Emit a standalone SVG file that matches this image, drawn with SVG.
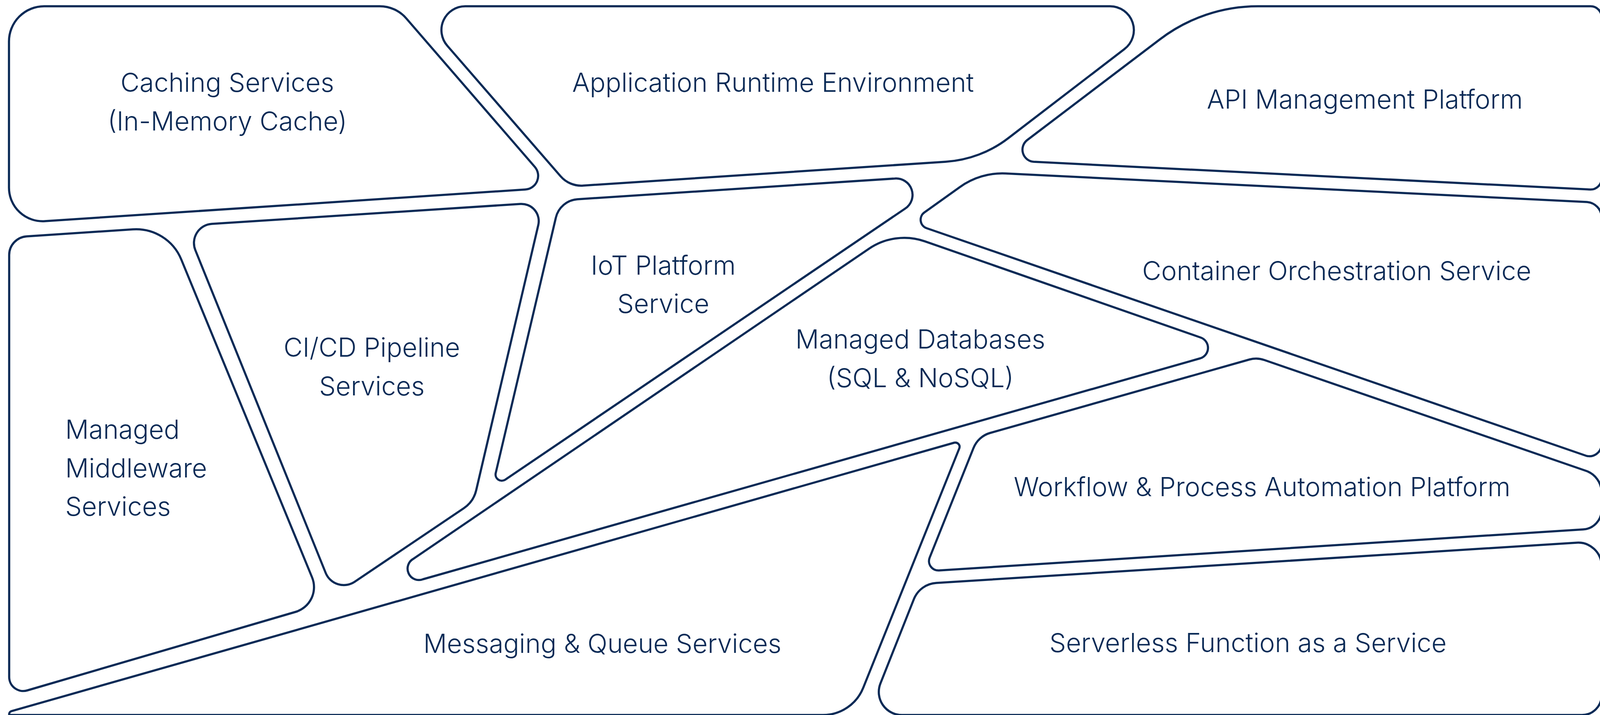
<svg xmlns="http://www.w3.org/2000/svg" width="4097" height="1830" viewBox="0 0 4097 1830">
<style>
.cell{fill:#ffffff;stroke:#0a2a56;stroke-width:5.5;stroke-linejoin:round}
.lbl{font-family:Inter,"Noto Sans","Liberation Sans",sans-serif;font-weight:300;font-size:67px;fill:#0a2a56;text-anchor:middle}
.lft{text-anchor:start}
</style>
<rect width="4097" height="1830" fill="#ffffff"/>
<g id="connectors"></g>
<g id="caching-services">
<path class="cell" d="M 23,106 A 90 90 0 0 1 113,16 L 972,16 A 90 90 0 0 1 1040,47 L 1369,427 A 35 35 0 0 1 1345,485 L 115,566 A 86 86 0 0 1 23,480 Z"/>
<text class="lbl" x="582" y="235">Caching Services</text>
<text class="lbl" x="582" y="334">(In-Memory Cache)</text>
</g>
<g id="application-runtime">
<path class="cell" d="M 1145,117 A 61 61 0 0 1 1191,16 L 2841,16 A 61 61 0 0 1 2878,126 L 2582,353 A 294 294 0 0 1 2421,414 L 1493,475 A 70 70 0 0 1 1435,451 Z"/>
<text class="lbl" x="1979" y="235">Application Runtime Environment</text>
</g>
<g id="api-management">
<path class="cell" d="M 2969,101 A 414 414 0 0 1 3220,16 L 4072,16 A 28 28 0 0 1 4100,44 L 4100,457 A 28 28 0 0 1 4070,485 L 2646,414 A 31 31 0 0 1 2629,359 Z"/>
<text class="lbl" x="3494" y="278">API Management Platform</text>
</g>
<g id="container-orchestration">
<path class="cell" d="M 2457,479 A 186 186 0 0 1 2575,444 L 4062,517 A 40 40 0 0 1 4100,557 L 4100,1137 A 31 31 0 0 1 4059,1166 L 2372,584 A 23 23 0 0 1 2366,544 Z"/>
<text class="lbl" x="3422" y="717">Container Orchestration Service</text>
</g>
<g id="iot-platform">
<path class="cell" d="M 1423,557 A 61 61 0 0 1 1478,510 L 2290,457 A 42 42 0 0 1 2317,534 L 1293,1228 A 16 16 0 0 1 1269,1211 Z"/>
<text class="lbl" x="1698" y="703">IoT Platform</text>
<text class="lbl" x="1698" y="801">Service</text>
</g>
<g id="cicd-pipeline">
<path class="cell" d="M 500,640 A 49 49 0 0 1 542,573 L 1332,522 A 44 44 0 0 1 1378,576 L 1219,1255 A 76 76 0 0 1 1187,1301 L 908,1489 A 50 50 0 0 1 834,1467 Z"/>
<text class="lbl" x="952" y="913">CI/CD Pipeline</text>
<text class="lbl" x="952" y="1012">Services</text>
</g>
<g id="managed-middleware">
<path class="cell" d="M 23.5,653 A 48 48 0 0 1 68,605 L 340,587 A 125 125 0 0 1 464,664 L 799,1478 A 66 66 0 0 1 757,1566 L 70,1767 A 36 36 0 0 1 23.5,1733 Z"/>
<text class="lbl lft" x="167" y="1123">Managed</text>
<text class="lbl lft" x="167" y="1222">Middleware</text>
<text class="lbl lft" x="167" y="1320">Services</text>
</g>
<g id="managed-databases">
<path class="cell" d="M 2224,637 A 161 161 0 0 1 2367.5,617.6 L 3074,864 A 28 28 0 0 1 3073,917 L 1083,1482.5 A 29 29 0 0 1 1058.6,1430 Z"/>
<text class="lbl" x="2356" y="892">Managed Databases</text>
<text class="lbl" x="2356" y="991">(SQL &amp; NoSQL)</text>
</g>
<g id="workflow-automation">
<path class="cell" d="M 2492,1147 A 65 65 0 0 1 2535,1108 L 3199,920 A 63 63 0 0 1 3237,921.5 L 4060,1205 A 59 59 0 0 1 4100,1261 L 4100,1305 A 50 50 0 0 1 4053,1355 L 2404,1460 A 24 24 0 0 1 2380,1427 Z"/>
<text class="lbl" x="3231" y="1270">Workflow &amp; Process Automation Platform</text>
</g>
<g id="serverless-faas">
<path class="cell" d="M 2339.5,1533.5 A 66 66 0 0 1 2397,1492 L 4036,1389 A 60 60 0 0 1 4100,1449 L 4100,1780 A 50 50 0 0 1 4050,1830 L 2309,1830 A 59 59 0 0 1 2254,1749 Z"/>
<text class="lbl" x="3195" y="1669">Serverless Function as a Service</text>
</g>
<g id="messaging-queue">
<path class="cell" d="M 23.5,1830 L 23.5,1828 A 8 8 0 0 1 29.3,1820.2 L 2443,1133 A 11 11 0 0 1 2456,1147 L 2210,1760 A 111 111 0 0 1 2107,1830 Z"/>
<text class="lbl" x="1542" y="1671">Messaging &amp; Queue Services</text>
</g>
</svg>
